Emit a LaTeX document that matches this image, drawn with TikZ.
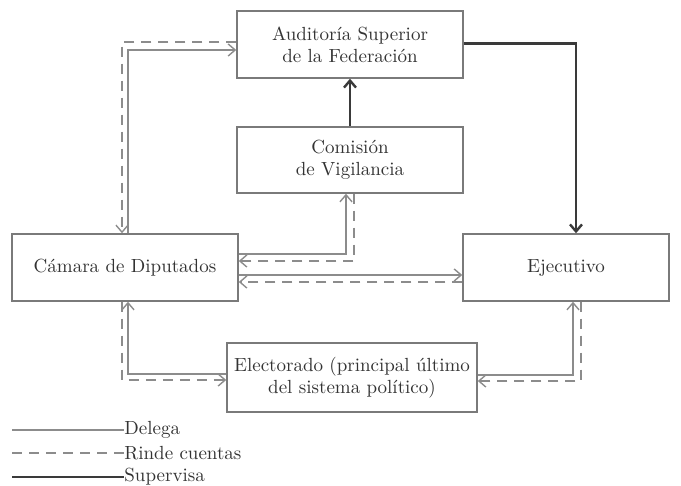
\documentclass[tikz,border=0pt]{standalone}
\usepackage{tikz}
\usetikzlibrary{arrows.meta, calc, positioning}
\definecolor{boxgray}{HTML}{7A7A7A}
\definecolor{linegray}{HTML}{8C8C8C}
\definecolor{darkline}{HTML}{3A3A3A}
\definecolor{txtgray}{HTML}{333333}
\tikzset{
  box/.style={draw=boxgray, line width=0.75pt, fill=white, align=center,
    text=txtgray, font=\fontsize{9.5}{11}\selectfont, inner sep=0pt},
  delega/.style={draw=linegray, line width=0.7pt, -{Straight Barb[length=3.5pt,width=6pt]}},
  rinde/.style={draw=linegray, line width=0.7pt, dash pattern=on 5pt off 3.5pt,
    -{Straight Barb[length=3.5pt,width=6pt]}},
  supervisa/.style={draw=darkline, line width=1.2pt, -{Straight Barb[length=3.5pt,width=6pt]}},
  legtext/.style={anchor=west, inner sep=0pt, text=txtgray, font=\fontsize{9.5}{11}\selectfont}
}

\begin{document}
\begin{tikzpicture}[x=0.5pt, y=-0.5pt]
\useasboundingbox (0,0) rectangle (681,486);
%% boxes
  \node[box, minimum width=113pt, minimum height=33.5pt] (asf) at (350,44.5)
    {Auditoría Superior\\de la Federación};
  \node[box, minimum width=113pt, minimum height=33pt] (com) at (350,160)
    {Comisión\\de Vigilancia};
  \node[box, minimum width=113pt, minimum height=33.5pt] (cam) at (125,267.5)
    {Cámara de Diputados};
  \node[box, minimum width=103pt, minimum height=33.5pt] (eje) at (566,267.5)
    {Ejecutivo};
  \node[box, minimum width=125pt, minimum height=34.5pt] (ele) at (352,377.5)
    {Electorado (principal último\\del sistema político)};
%% camara and auditoria
  \draw[delega] ($(cam.north)+(3,0)$) |- ($(asf.west)+(0,5.5)$);
  \draw[rinde] ($(asf.west)+(0,-2.5)$) -| ($(cam.north)+(-3,0)$);
%% supervision
  \draw[supervisa] ($(asf.east)+(0,-1)$) -| ($(eje.north)+(10,0)$);
  \draw[supervisa] (com.north) -- (asf.south);
%% camara and comision
  \draw[delega] ($(cam.east)+(0,-13.5)$) -| ($(com.south)+(-4,0)$);
  \draw[rinde] ($(com.south)+(4,0)$) |- ($(cam.east)+(0,-6.5)$);
%% camara and ejecutivo
  \draw[delega] ($(cam.east)+(0,7.5)$) -- ($(eje.west)+(0,7.5)$);
  \draw[rinde] ($(eje.west)+(0,14.5)$) -- ($(cam.east)+(0,14.5)$);
%% electorado
  \draw[delega] ($(ele.west)+(0,-3.5)$) -| ($(cam.south)+(3,0)$);
  \draw[rinde] ($(cam.south)+(-3,0)$) |- ($(ele.west)+(0,2.5)$);
  \draw[delega] ($(ele.east)+(0,-2.5)$) -| ($(eje.south)+(7,0)$);
  \draw[rinde] ($(eje.south)+(15,0)$) |- ($(ele.east)+(0,3.5)$);
%% legend
  \node[legtext] (lgdel) at (124,430) {Delega};
  \node[legtext] (lgrin) at (124,453) {Rinde cuentas};
  \node[legtext] (lgsup) at (124,477) {Supervisa};
  \coordinate (lgdelstart) at (12,430);
  \coordinate (lgrinstart) at (12,453);
  \coordinate (lgsupstart) at (12,477);
  \draw[delega, -] (lgdelstart) -- (lgdel.west);
  \draw[rinde, -] (lgrinstart) -- (lgrin.west);
  \draw[supervisa, -] (lgsupstart) -- (lgsup.west);
\end{tikzpicture}
\end{document}
